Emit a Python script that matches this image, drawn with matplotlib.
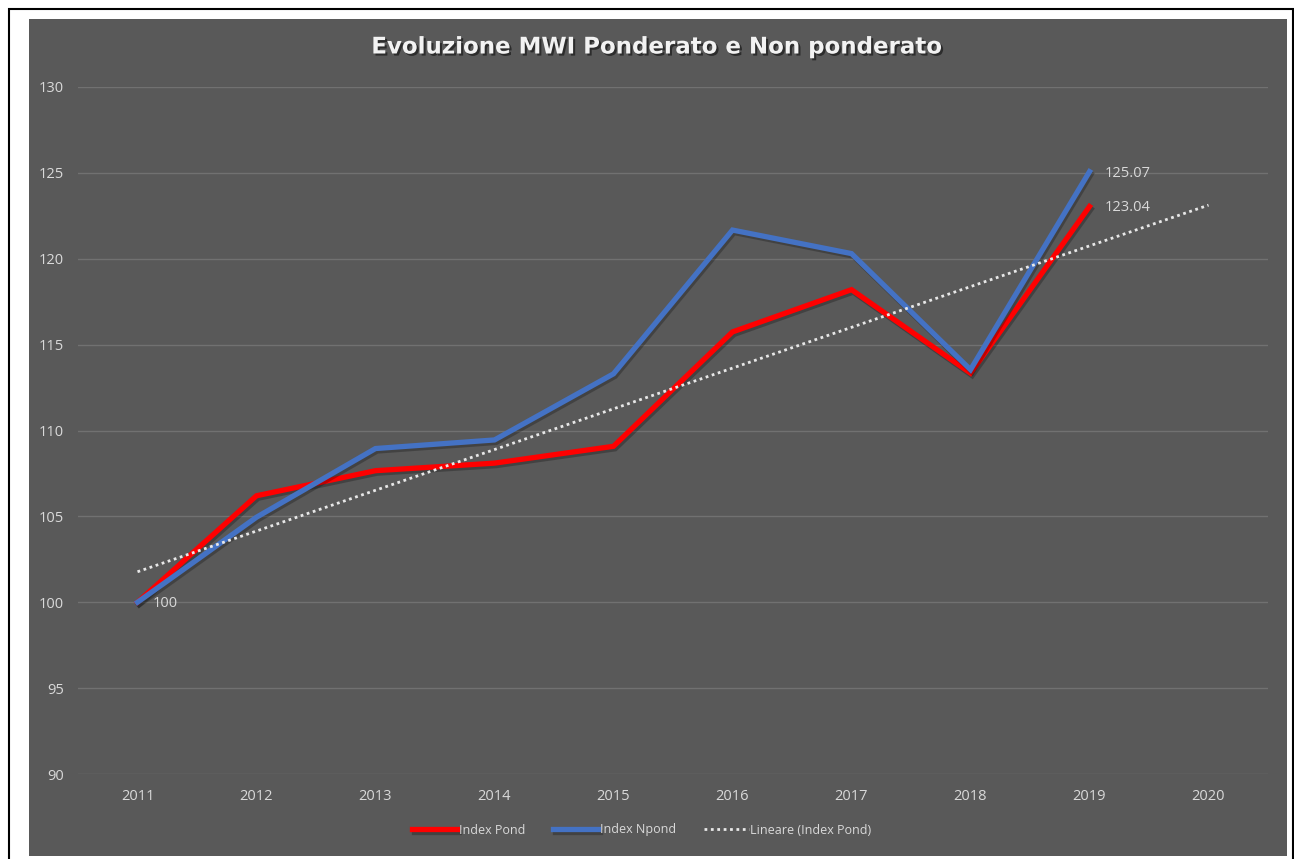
import matplotlib
matplotlib.use('Agg')
import matplotlib.pyplot as plt
import matplotlib.patheffects as pe
from matplotlib.patches import Rectangle
import numpy as np

years = ['2011', '2012', '2013', '2014', '2015', '2016', '2017', '2018', '2019', '2020']
index_pond = [100, 106.2, 107.66, 108.1, 109.08, 115.74, 118.2, 113.34, 123.04]
index_npond = [100, 104.95, 108.95, 109.45, 113.3, 121.67, 120.3, 113.54, 125.07]

W, H = 1294, 859
bg = '#595959'
txt = '#d9d9d9'

plt.rcParams['font.family'] = ['Open Sans', 'DejaVu Sans']
fig = plt.figure(figsize=(W/100, H/100), dpi=100)
fig.patch.set_facecolor('white')

def fx(px): return px / W
def fy(py): return 1 - py / H

# outer frame and dark chart area (behind the axes)
fig.add_artist(Rectangle((fx(9), fy(870)), fx(1293) - fx(9), fy(9) - fy(870),
                         transform=fig.transFigure, facecolor='white', edgecolor='black',
                         lw=1.5, zorder=-10))
fig.add_artist(Rectangle((fx(29), fy(856)), fx(1287) - fx(29), fy(19) - fy(856),
                         transform=fig.transFigure, facecolor=bg, edgecolor='none', zorder=-9))

ax = fig.add_axes([fx(78), fy(774), fx(1268) - fx(78), fy(87) - fy(774)])
ax.set_zorder(2)
ax.patch.set_alpha(0)

x = np.arange(1, len(years) + 1)
xp = x[:len(index_pond)]

shadow = [pe.SimpleLineShadow(offset=(1.2, -1.8), shadow_color='black', alpha=0.25), pe.Normal()]
l1, = ax.plot(xp, index_pond, color='#ff0000', lw=3.8, solid_joinstyle='miter',
              path_effects=shadow, label='Index Pond', zorder=3)
l2, = ax.plot(xp, index_npond, color='#4472c4', lw=3.8, solid_joinstyle='miter',
              path_effects=shadow, label='Index Npond', zorder=4)

# linear trend on Index Pond, forecast one period forward
k, b = np.polyfit(xp, index_pond, 1)
xt = np.array([1, len(years)])
l3, = ax.plot(xt, k * xt + b, color='#e8e8e8', lw=2, ls=(0, (1, 1.3)),
              label='Lineare (Index Pond)', zorder=5)

ax.set_xlim(0.5, len(years) + 0.5)
ax.set_ylim(90, 130)
ax.set_yticks(range(90, 131, 5))
ax.set_xticks(x)
ax.set_xticklabels(years)
ax.grid(axis='y', color='#717171', lw=1)
ax.set_axisbelow(True)
for s in ax.spines.values():
    s.set_visible(False)
ax.tick_params(axis='both', length=0, colors=txt, labelsize=10.5)
ax.tick_params(axis='y', pad=10)
ax.tick_params(axis='x', pad=11)

# data labels
ax.annotate('100', (1, index_pond[0]), xytext=(11, -1), textcoords='offset points',
            va='center', ha='left', color=txt, fontsize=10.5)
ax.annotate('%.2f' % index_npond[-1], (9, index_npond[-1]), xytext=(11, -1), textcoords='offset points',
            va='center', ha='left', color=txt, fontsize=10.5)
ax.annotate('%.2f' % index_pond[-1], (9, index_pond[-1]), xytext=(11, -1), textcoords='offset points',
            va='center', ha='left', color=txt, fontsize=10.5)

fig.text(fx(656), fy(47), 'Evoluzione MWI Ponderato e Non ponderato', ha='center', va='center',
         color='#f2f2f2', fontsize=16.5, fontweight='bold', family='DejaVu Sans',
         path_effects=[pe.withSimplePatchShadow(offset=(1.5, -1.5), shadow_rgbFace='black', alpha=0.5)])

leg = fig.legend(handles=[l1, l2, l3], loc='center', bbox_to_anchor=(fx(642), fy(830)), ncol=3,
                 frameon=False, fontsize=9, labelcolor=txt, handlelength=3.6, handletextpad=0.15,
                 columnspacing=2.2)

fig.savefig('out.png', dpi=100, facecolor='white')
